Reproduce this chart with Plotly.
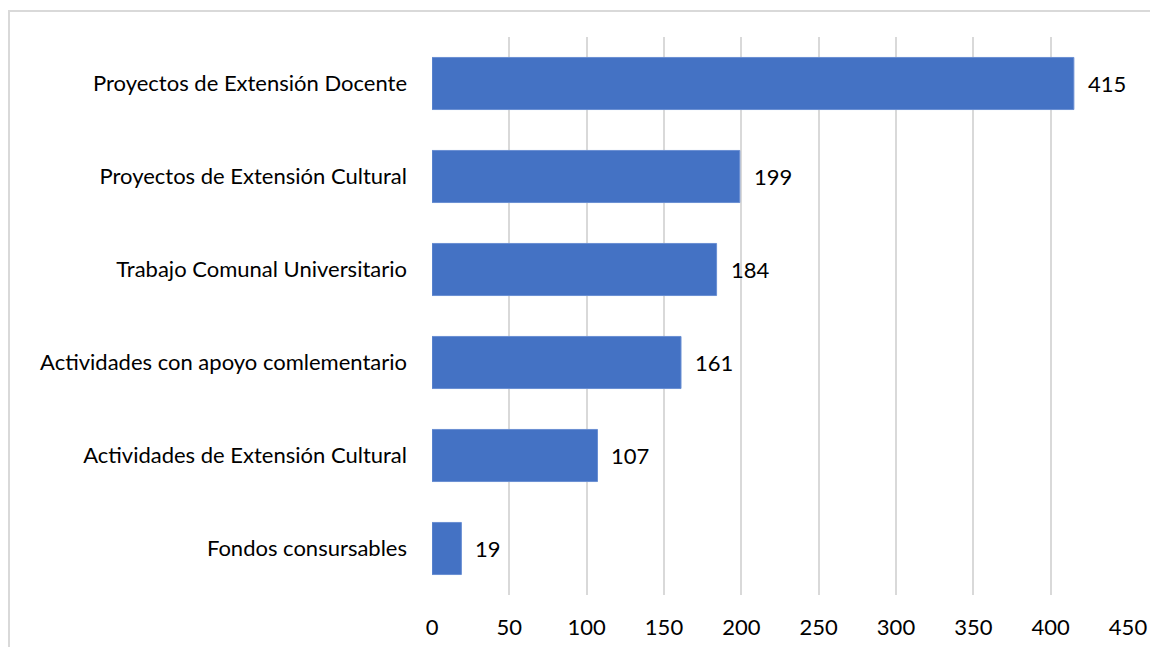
import plotly.graph_objects as go

categories = [
    "Proyectos de Extensión Docente",
    "Proyectos de Extensión Cultural",
    "Trabajo Comunal Universitario",
    "Actividades con apoyo comlementario",
    "Actividades de Extensión Cultural",
    "Fondos consursables",
]
values = [415, 199, 184, 161, 107, 19]
x_ticks = [0, 50, 100, 150, 200, 250, 300, 350, 400, 450]

FONT = "Lato, 'Open Sans', sans-serif"
FS = 22

# page body has an 8px margin; figure coords are offset by 8px
L, T = 424, 29
PW, PH = 696, 558

fig = go.Figure()
fig.add_trace(go.Bar(
    x=values,
    y=categories,
    orientation="h",
    marker=dict(color="#4472C4", line=dict(color="#6A8FD3", width=1)),
    width=0.56,
    hoverinfo="x+y",
))

for v, c in zip(values, categories):
    fig.add_annotation(x=v, y=c, text=str(v), showarrow=False,
                       xanchor="left", xshift=12,
                       font=dict(family=FONT, size=FS, color="#000000"))

fig.update_layout(
    width=L + PW + 30, height=T + PH + 60,
    margin=dict(l=L, r=30, t=T, b=60),
    paper_bgcolor="white", plot_bgcolor="white",
    showlegend=False,
    font=dict(family=FONT, size=FS, color="#000000"),
    xaxis=dict(
        range=[0, 450], tickvals=x_ticks, ticktext=[str(t) for t in x_ticks],
        showgrid=True, gridcolor="#D9D9D9", gridwidth=2,
        zeroline=False, showline=False,
        ticklabelstandoff=17,
        tickfont=dict(family=FONT, size=FS, color="#000000"),
        fixedrange=True,
    ),
    yaxis=dict(
        categoryorder="array", categoryarray=categories[::-1],
        showgrid=False, zeroline=False, showline=False,
        ticklabelstandoff=24,
        tickfont=dict(family=FONT, size=FS, color="#000000"),
        fixedrange=True,
    ),
    shapes=[dict(
        type="rect", xref="paper", yref="paper",
        x0=(1 - L) / PW, x1=(1170 - L) / PW,
        y0=-80 / PH, y1=1 + (T - 3) / PH,
        line=dict(color="#D9D9D9", width=2), fillcolor="rgba(0,0,0,0)",
        layer="below",
    )],
)

fig.write_html("out.html")
